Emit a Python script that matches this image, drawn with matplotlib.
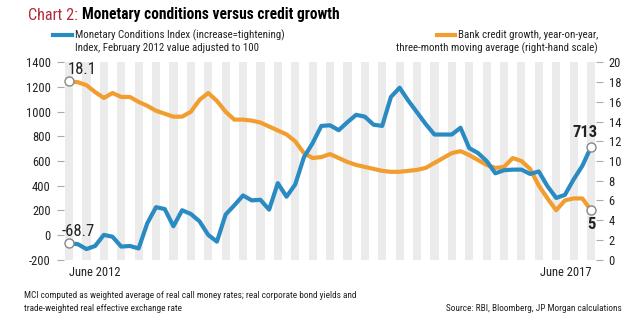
import matplotlib.pyplot as plt
from matplotlib import font_manager as fm
import numpy as np

# monthly, June 2012 .. June 2017
mci = [-68.7, -75, -115, -90, 0, -15, -95, -90, -110, 95,
       225, 210, 70, 200, 170, 110, 0, -55, 165, 240,
       320, 280, 285, 205, 420, 310, 410, 630, 745, 885,
       890, 850, 915, 975, 960, 895, 885, 1120, 1195, 1090,
       995, 900, 815, 815, 815, 870, 705, 665, 600, 500,
       525, 530, 530, 495, 515, 395, 300, 325, 450, 560, 713]
credit = [18.1, 18.0, 17.7, 17.0, 16.4, 16.9, 16.5, 16.5, 16.0, 15.6,
          15.1, 14.8, 14.5, 14.5, 15.0, 16.2, 16.9, 16.1, 15.0, 14.2,
          14.2, 14.1, 13.9, 13.5, 13.1, 12.7, 12.0, 10.8, 10.3, 10.4,
          10.7, 10.3, 9.9, 9.6, 9.4, 9.2, 9.0, 8.9, 8.9, 9.0,
          9.1, 9.3, 9.8, 10.3, 10.8, 11.0, 10.6, 10.1, 9.6, 9.3,
          9.4, 10.3, 10.0, 9.2, 7.5, 6.2, 5.0, 6.0, 6.2, 6.2, 5.0]
left_ticks = [-200, 0, 200, 400, 600, 800, 1000, 1200, 1400]
right_ticks = [0, 2, 4, 6, 8, 10, 12, 14, 16, 18, 20]
x_labels = ["June 2012", "June 2017"]

BLUE = '#2a8bc3'
ORANGE = '#f29d30'
RED = '#b32b3a'
TXT = '#222222'

# pick a narrow face if there is one
names = {f.name for f in fm.fontManager.ttflist}
stretch = 'normal'
family = 'Liberation Sans'
for cand in ['Liberation Sans Narrow', 'Roboto Condensed', 'Open Sans Condensed',
             'Noto Sans Condensed', 'DejaVu Sans Condensed']:
    if cand in names:
        family = cand
        break
else:
    if any(f.name == 'DejaVu Sans' and f.stretch == 'condensed' for f in fm.fontManager.ttflist):
        family, stretch = 'DejaVu Sans', 'condensed'
plt.rcParams['font.family'] = [family, 'DejaVu Sans']
plt.rcParams['font.stretch'] = stretch
plt.rcParams['axes.unicode_minus'] = False

months = np.arange(len(mci))

fig = plt.figure(figsize=(6.4, 3.28), dpi=100)
ax = fig.add_axes([0.0997, 0.2088, 0.8319, 0.6007])
ax2 = ax.twinx()
ax.set_zorder(ax2.get_zorder() + 1)
ax.patch.set_visible(False)

for i in months[::2]:
    ax2.axvspan(i - 0.47, i + 0.47, color='#ebebeb', lw=0, zorder=0)

ax2.plot(months, credit, color=ORANGE, lw=3.0, solid_joinstyle='round', zorder=3)
ax.plot(months, mci, color=BLUE, lw=3.0, solid_joinstyle='round', zorder=3)

ax.set_xlim(-0.6, 60.6)
ax.set_ylim(-200, 1400)
ax2.set_ylim(0, 20)
ax.set_yticks(left_ticks)
ax2.set_yticks(right_ticks)
ax.set_xticks([0, 60])
ax.set_xticklabels(x_labels)
ax.get_xticklabels()[0].set_horizontalalignment('left')
ax.get_xticklabels()[1].set_horizontalalignment('right')
for a in (ax, ax2):
    for s in a.spines.values():
        s.set_visible(False)
ax.tick_params(axis='y', length=5, width=0.8, color='#aaaaaa', pad=4.5, labelsize=9, labelcolor=TXT)
ax2.tick_params(axis='y', length=5, width=0.8, color='#aaaaaa', pad=4, labelsize=9, labelcolor=TXT)
ax.tick_params(axis='x', length=0, pad=5, labelsize=9, labelcolor=TXT)

# end-point markers and labels
mk = dict(marker='o', ms=6.5, mfc='white', mec='#888888', mew=1.0, zorder=5)
ax.plot([months[0], months[-1]], [mci[0], mci[-1]], ls='none', **mk)
ax2.plot([months[0], months[-1]], [credit[0], credit[-1]], ls='none', **mk)
ax2.annotate("18.1", (months[0], credit[0]), xytext=(-1, 3), textcoords='offset points',
             ha='left', va='bottom', fontsize=12, color=TXT)
ax.annotate("-68.7", (months[0], mci[0]), xytext=(-5, 3), textcoords='offset points',
            ha='left', va='bottom', fontsize=12, color=TXT)
ax.annotate(f"{mci[-1]:.0f}", (months[-1], mci[-1]), xytext=(5, 5), textcoords='offset points',
            ha='right', va='bottom', fontsize=12, fontweight='bold', color=TXT)
ax2.annotate(f"{credit[-1]:.0f}", (months[-1], credit[-1]), xytext=(0, -5), textcoords='offset points',
             ha='center', va='top', fontsize=12, fontweight='bold', color=TXT)


def fit(txt, width_px):
    # shrink the text so that it spans about width_px
    fig.canvas.draw()
    w = txt.get_window_extent().width
    txt.set_fontsize(txt.get_fontsize() * width_px / w)


# title
t1 = fig.text(28 / 640, 1 - 15 / 328, "Chart 2:", color=RED, fontsize=13, va='center', ha='left')
fit(t1, 50)
fig.canvas.draw()
bb = t1.get_window_extent()
t2 = fig.text(bb.x1 / 640 + 0.006, 1 - 15 / 328, "Monetary conditions versus credit growth",
              color='black', fontsize=13, fontweight='bold', va='center', ha='left')
fit(t2, 340 - bb.x1 - 4)

# legend
fig.add_artist(plt.Line2D([53 / 640, 72 / 640], [1 - 35 / 328] * 2, color=BLUE, lw=3))
l1 = fig.text(75 / 640, 1 - 35 / 328, "Monetary Conditions Index (increase=tightening)",
              fontsize=8.5, color=TXT, va='center', ha='left')
fit(l1, 208)
fig.text(75 / 640, 1 - 48 / 328, "Index, February 2012 value adjusted to 100",
         fontsize=l1.get_fontsize(), color=TXT, va='center', ha='left')
fig.add_artist(plt.Line2D([437 / 640, 455 / 640], [1 - 35 / 328] * 2, color=ORANGE, lw=3))
fig.text(598 / 640, 1 - 35 / 328, "Bank credit growth, year-on-year,",
         fontsize=l1.get_fontsize(), color=TXT, va='center', ha='right')
fig.text(598 / 640, 1 - 48 / 328, "three-month moving average (right-hand scale)",
         fontsize=l1.get_fontsize(), color=TXT, va='center', ha='right')

# footnotes
f1 = fig.text(24 / 640, 1 - 296 / 328,
              "MCI computed as weighted average of real call money rates; real corporate bond yields and",
              fontsize=7, color=TXT, va='center', ha='left')
fit(f1, 333)
fig.text(24 / 640, 1 - 308.5 / 328, "trade-weighted real effective exchange rate",
         fontsize=f1.get_fontsize(), color=TXT, va='center', ha='left')
fig.text(622 / 640, 1 - 308.5 / 328, "Source: RBI, Bloomberg, JP Morgan calculations",
         fontsize=f1.get_fontsize(), color=TXT, va='center', ha='right')

fig.savefig("out.png", dpi=100)
